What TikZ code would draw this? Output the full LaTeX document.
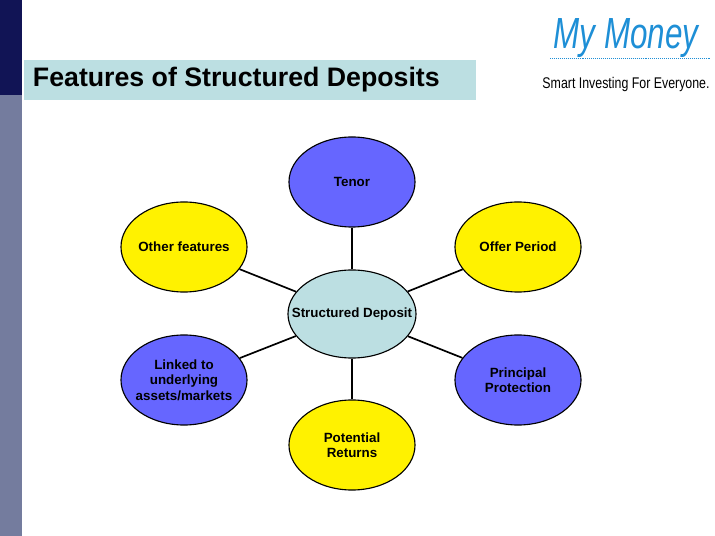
\documentclass[tikz,border=0pt]{standalone}
\usepackage{fontspec}
\setmainfont{Liberation Sans}
\usetikzlibrary{shapes,positioning}
\definecolor{navy}{HTML}{111455}
\definecolor{slate}{HTML}{747C9E}
\definecolor{paleteal}{HTML}{BCDFE2}
\definecolor{featblue}{HTML}{6666FF}
\definecolor{logoblue}{HTML}{1E8FD6}
\begin{document}
\begin{tikzpicture}[x=0.025cm,y=-0.025cm]
  \tikzset{feat node/.style={ellipse, draw, thick, minimum width=3.15cm,
  		minimum height=2.25cm, inner sep=0pt,
  		label={[align=center, font=\bfseries\fontsize{9.5}{11}\selectfont]center:#1}}, }
  \tikzset{blue node/.style={feat node=#1, fill=featblue}, }
  \tikzset{yellow node/.style={feat node=#1, fill=yellow}, }
  \tikzset{linea/.style={very thick}, }
\useasboundingbox (0,0) rectangle (715,536);
\fill[navy] (0,0) rectangle (22,95);
\fill[slate] (0,95) rectangle (22,536);
\fill[paleteal] (24,60) rectangle (476,100);
\node[anchor=west, font=\bfseries\fontsize{19}{22}\selectfont] (title) at (28,80) {Features of Structured Deposits};
\node[font=\itshape\fontsize{31}{31}\selectfont, text=logoblue, xscale=0.72] (logo) at (626,38) {My Money};
\draw[logoblue, densely dotted] (550,58) -- (710,58);
\node[font=\fontsize{11}{12}\selectfont, xscale=0.8] (slogan) at (626,85) {Smart Investing For Everyone.};
\node[feat node={Structured Deposit}, fill=paleteal, minimum width=3.2cm, minimum height=2.2cm] (c) at (352,314) {};
\node[blue node=Tenor] (1) at (352,182) {};
\node[yellow node={Offer Period}] (2) at (518,247) {};
\node[blue node={Principal\\Protection}] (3) at (518,380) {};
\node[yellow node={Potential\\Returns}] (4) at (352,445) {};
\node[blue node={Linked to\\underlying\\assets/markets}] (5) at (184,380) {};
\node[yellow node={Other features}] (6) at (184,247) {};
\foreach \x in {1,...,6}
  \draw[linea] (c) -- (\x);
\end{tikzpicture}
\end{document}
